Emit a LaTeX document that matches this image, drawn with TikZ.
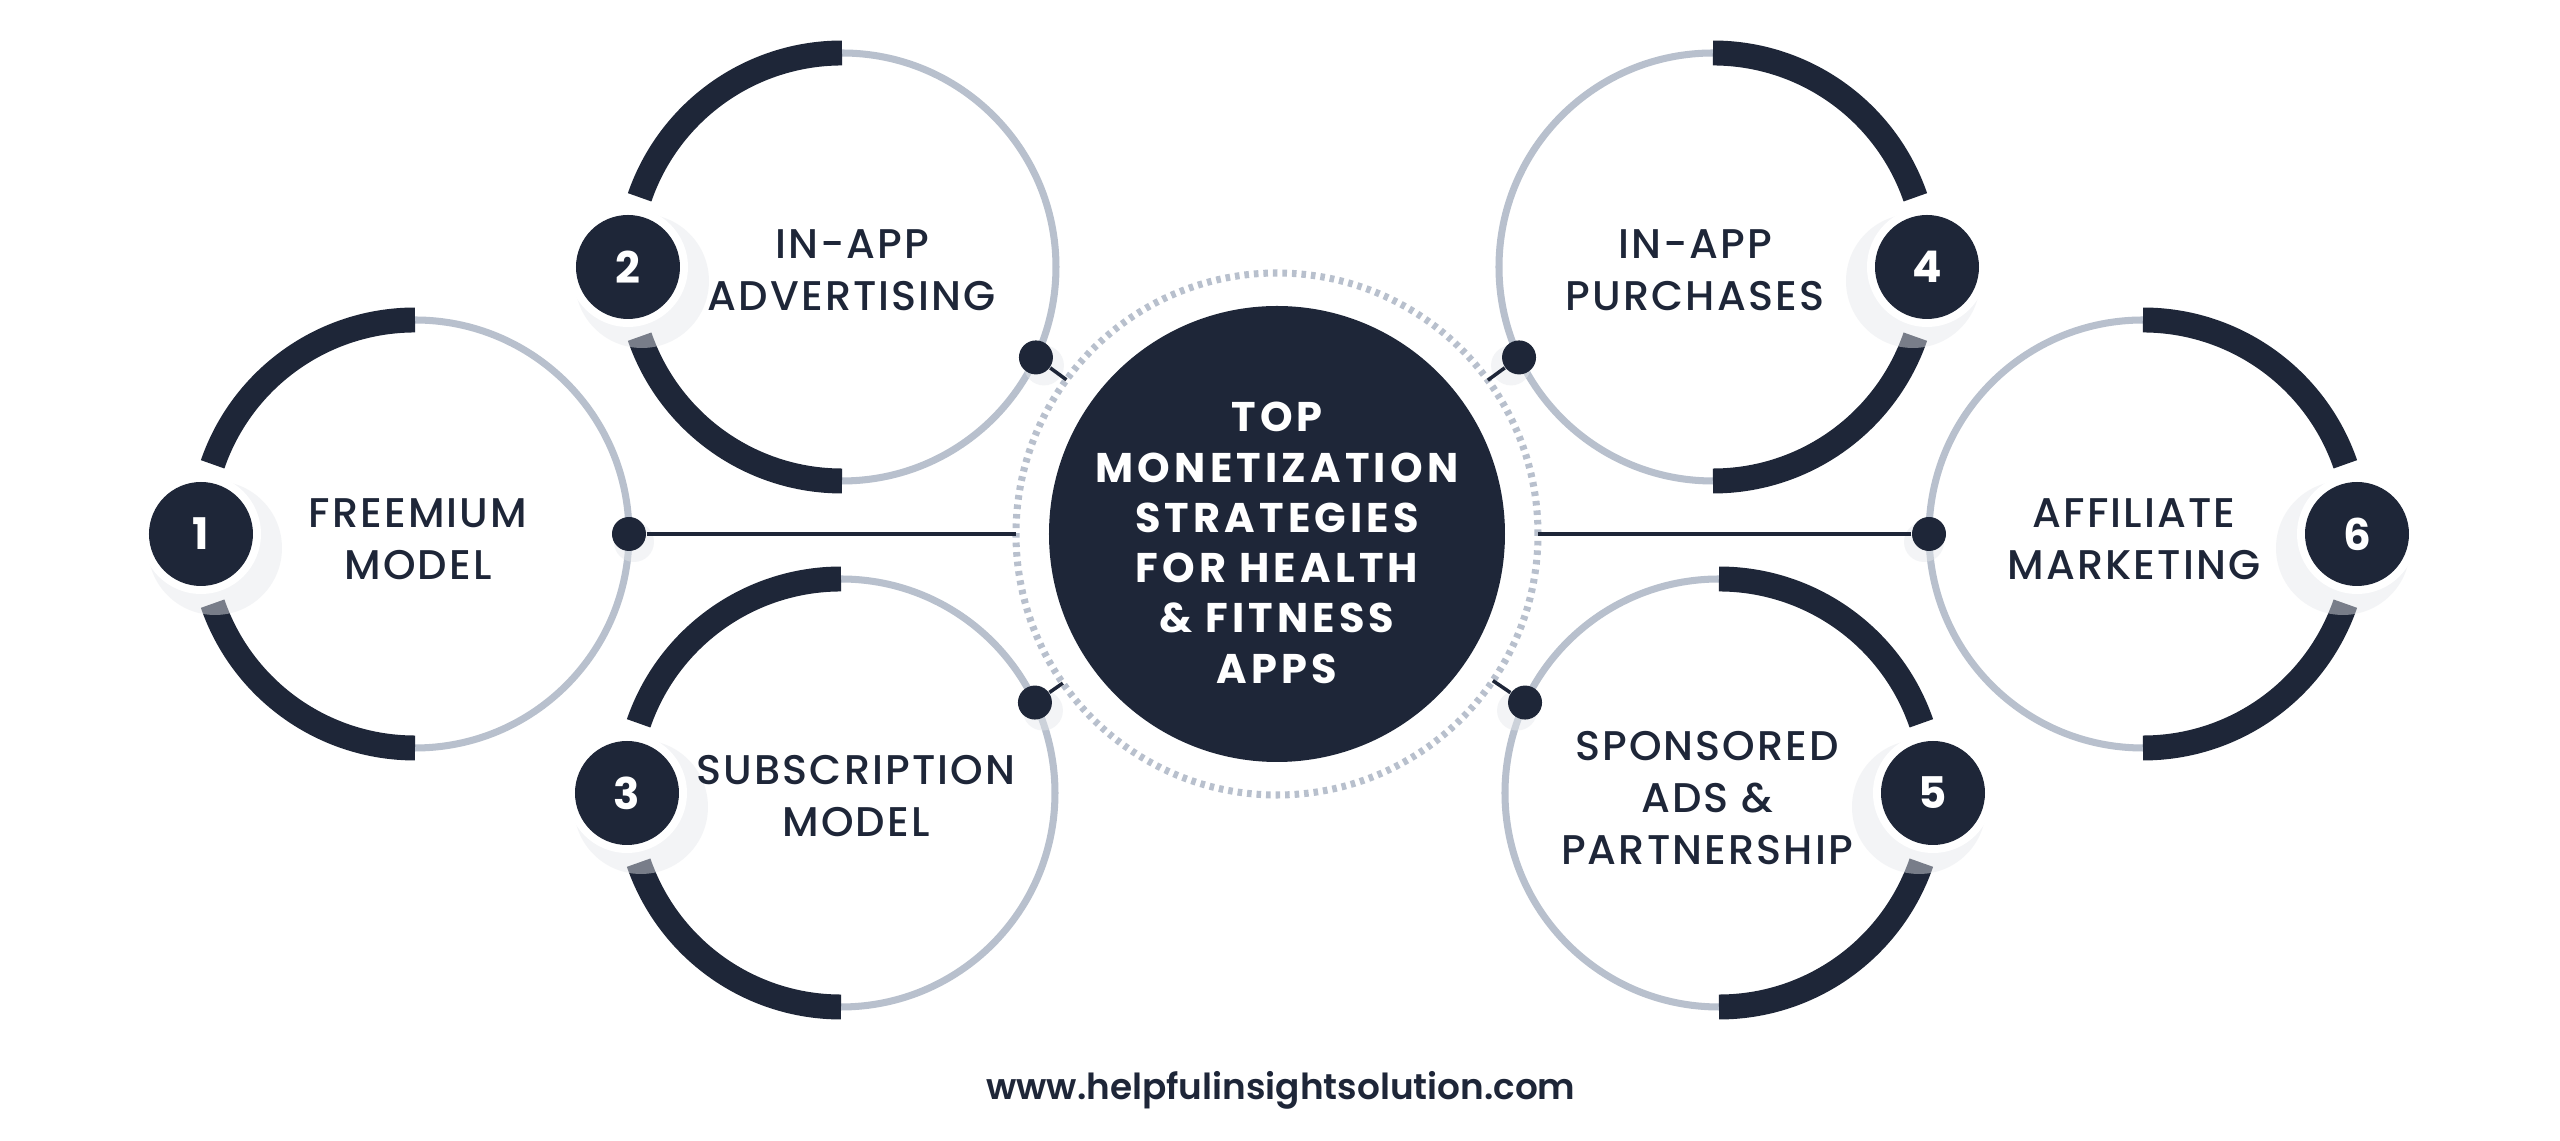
\documentclass[tikz,border=0pt]{standalone}
\usepackage{fontspec}
\setmainfont{Poppins}
\newfontfamily\labelfont{Poppins Medium}[LetterSpace=5]
\newfontfamily\titlefont{Poppins Bold}[LetterSpace=10]
\newfontfamily\footfont{Poppins SemiBold}
\usetikzlibrary{calc}
\definecolor{navy}{HTML}{1E2638}
\definecolor{orbitgray}{HTML}{B8C0CD}
\definecolor{shade}{HTML}{E6E8EC}
\def\orbitr{2.14}
\def\orbitarc[#1](#2)(#3:#4){\draw[#1] ([shift={(#3:\orbitr)}]#2) arc[start angle=#3, end angle=#4, radius=\orbitr];}
\tikzset{
	thin orbit/.style={line width=2pt, color=orbitgray},
	thick orbit/.style={line width=7.1pt, color=navy},
	haze/.style={fill=shade, opacity=0.45},
	badge/.style={circle, fill=navy, minimum size=1.04cm, inner sep=0pt, text=white, font=\bfseries\fontsize{12.4}{12.4}\selectfont},
	joint/.style={circle, fill=navy, minimum size=0.34cm, inner sep=0pt},
	wire/.style={line width=1pt, color=navy},
	strategy/.style={align=center, text=navy, inner sep=0pt, font=\labelfont\fontsize{11.8}{14.8}\selectfont}
}

\begin{document}
\begin{tikzpicture}
			%%%%% START %%%%%
			
			\useasboundingbox (-12.77, -6.07) rectangle (12.83, 5.34);
			\fill[white] (-12.77, -6.07) rectangle (12.83, 5.34);
			
			\coordinate (c1) at (-8.62, 0);
			\coordinate (c2) at (-4.35, 2.67);
			\coordinate (c3) at (-4.36, -2.59);
			\coordinate (c4) at (4.36, 2.67);
			\coordinate (c5) at (4.42, -2.59);
			\coordinate (c6) at (8.66, 0);
			
			\coordinate (p1) at ($(c1)+(180:\orbitr)$);
			\coordinate (p2) at ($(c2)+(180:\orbitr)$);
			\coordinate (p3) at ($(c3)+(180:\orbitr)$);
			\coordinate (p4) at ($(c4)+(0:\orbitr)$);
			\coordinate (p5) at ($(c5)+(0:\orbitr)$);
			\coordinate (p6) at ($(c6)+(0:\orbitr)$);
			
			\coordinate (q1) at ($(c1)+(0:\orbitr)$);
			\coordinate (q2) at ($(c2)+(-25:\orbitr)$);
			\coordinate (q3) at ($(c3)+(25:\orbitr)$);
			\coordinate (q4) at ($(c4)+(205:\orbitr)$);
			\coordinate (q5) at ($(c5)+(155:\orbitr)$);
			\coordinate (q6) at ($(c6)+(180:\orbitr)$);
			
			% left circles
			\orbitarc[thin orbit](c1)(-90:90)
			\orbitarc[thick orbit](c1)(90:161)
			\orbitarc[thick orbit](c1)(199:270)
			\orbitarc[thin orbit](c2)(-90:90)
			\orbitarc[thick orbit](c2)(90:161)
			\orbitarc[thick orbit](c2)(199:270)
			\orbitarc[thin orbit](c3)(-90:90)
			\orbitarc[thick orbit](c3)(90:161)
			\orbitarc[thick orbit](c3)(199:270)
			
			% right circles
			\orbitarc[thin orbit](c4)(90:270)
			\orbitarc[thick orbit](c4)(90:19)
			\orbitarc[thick orbit](c4)(-19:-90)
			\orbitarc[thin orbit](c5)(90:270)
			\orbitarc[thick orbit](c5)(90:19)
			\orbitarc[thick orbit](c5)(-19:-90)
			\orbitarc[thin orbit](c6)(90:270)
			\orbitarc[thick orbit](c6)(90:19)
			\orbitarc[thick orbit](c6)(-19:-90)
			
			\fill[haze] ($(p1)+(0.14,-0.14)$) circle (0.67);
			\fill[haze] ($(p2)+(0.14,-0.14)$) circle (0.67);
			\fill[haze] ($(p3)+(0.14,-0.14)$) circle (0.67);
			\fill[haze] ($(p4)+(-0.14,-0.14)$) circle (0.67);
			\fill[haze] ($(p5)+(-0.14,-0.14)$) circle (0.67);
			\fill[haze] ($(p6)+(-0.14,-0.14)$) circle (0.67);
			\fill[white] (p1) circle (0.6);
			\fill[white] (p2) circle (0.6);
			\fill[white] (p3) circle (0.6);
			\fill[white] (p4) circle (0.6);
			\fill[white] (p5) circle (0.6);
			\fill[white] (p6) circle (0.6);
			
			\fill[haze] ($(q1)+(0.05,-0.08)$) circle (0.2);
			\fill[haze] ($(q2)+(0.08,-0.08)$) circle (0.2);
			\fill[haze] ($(q3)+(0.08,-0.08)$) circle (0.2);
			\fill[haze] ($(q4)+(-0.08,-0.08)$) circle (0.2);
			\fill[haze] ($(q5)+(-0.08,-0.08)$) circle (0.2);
			\fill[haze] ($(q6)+(-0.05,-0.08)$) circle (0.2);
			
			\node[circle, draw=orbitgray, line width=2pt, dash pattern=on 1.3pt off 1.41pt, minimum size=5.22cm, inner sep=0pt, outer sep=0pt] (ring) at (0, 0) {};
			\node[circle, fill=navy, minimum size=4.56cm, inner sep=0pt] (hub) at (0, 0) {};
			\node[text=white, align=center, font=\titlefont\fontsize{11.8}{14.3}\selectfont] (title) at (0, -0.09) {TOP\\MONETIZATION\\STRATEGIES\\FOR HEALTH\\\& FITNESS\\APPS};
			
			\node[joint] (d1) at (q1) {};
			\node[joint] (d2) at (q2) {};
			\node[joint] (d3) at (q3) {};
			\node[joint] (d4) at (q4) {};
			\node[joint] (d5) at (q5) {};
			\node[joint] (d6) at (q6) {};
			
			\draw[wire] (d1) -- (ring);
			\draw[wire] (d2) -- (ring);
			\draw[wire] (d3) -- (ring);
			\draw[wire] (d4) -- (ring);
			\draw[wire] (d5) -- (ring);
			\draw[wire] (d6) -- (ring);
			
			\node[badge] (b1) at (p1) {1};
			\node[badge] (b2) at (p2) {2};
			\node[badge] (b3) at (p3) {3};
			\node[badge] (b4) at (p4) {4};
			\node[badge] (b5) at (p5) {5};
			\node[badge] (b6) at (p6) {6};
			
			\node[strategy] (l1) at ($(c1)+(0.03,-0.05)$) {FREEMIUM\\MODEL};
			\node[strategy] (l2) at ($(c2)+(0.1,-0.03)$) {IN-APP\\ADVERTISING};
			\node[strategy] (l3) at ($(c3)+(0.15,-0.03)$) {SUBSCRIPTION\\MODEL};
			\node[strategy] (l4) at ($(c4)+(-0.18,-0.03)$) {IN-APP\\PURCHASES};
			\node[strategy] (l5) at ($(c5)+(-0.12,-0.05)$) {SPONSORED\\ADS \&\\PARTNERSHIP};
			\node[strategy] (l6) at ($(c6)+(-0.09,-0.05)$) {AFFILIATE\\MARKETING};
			
			\node[text=navy, font=\footfont\fontsize{10.2}{12}\selectfont] (site) at (0.04, -5.56) {www.helpfulinsightsolution.com};
			
			%%%%% END %%%%%
\end{tikzpicture}
\end{document}
